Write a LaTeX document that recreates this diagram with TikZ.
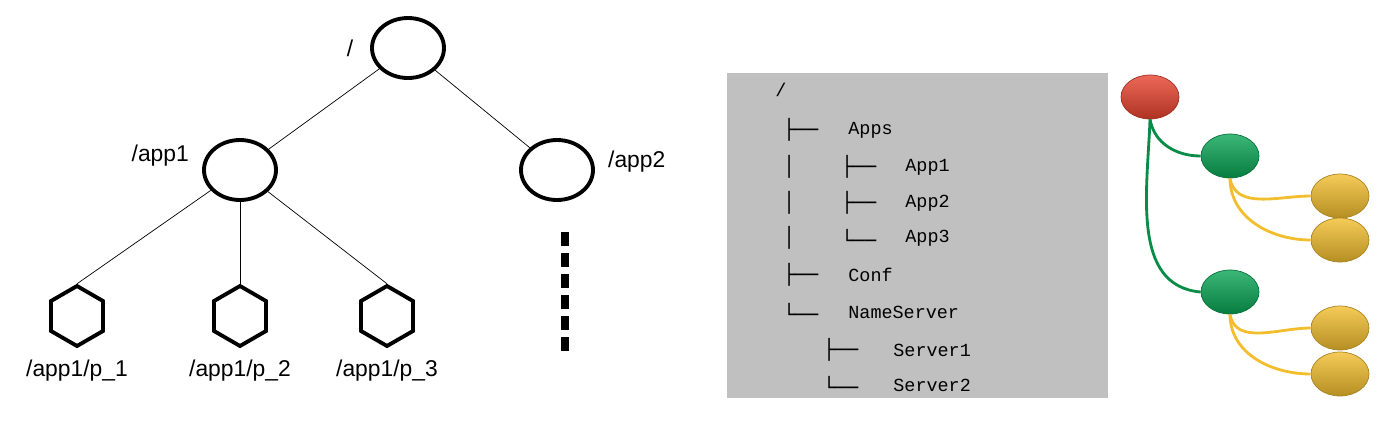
\documentclass[tikz,border=0pt]{standalone}
\usepackage{fontspec}
\setmainfont{Liberation Sans}
\newfontfamily\treemono{DejaVu Sans Mono}
\newfontfamily\codemono{Liberation Mono}
\usepackage{tikz}
\usetikzlibrary{shapes.geometric,positioning}
\definecolor{boxgray}{HTML}{C0C0C0}
\definecolor{znred}{HTML}{E8432F}
\definecolor{zngreen}{HTML}{0AA555}
\definecolor{znyellow}{HTML}{F2BE2E}
\tikzset{
  znode/.style={ellipse,draw,line width=2.2pt,minimum width=1.44cm,minimum height=1.2cm},
  zleaf/.style={regular polygon,regular polygon sides=6,shape border rotate=30,draw,line width=2.2pt,minimum size=1.2cm},
  zlabel/.style={font=\fontsize{13}{15}\selectfont},
  tline/.style={anchor=west,inner sep=0pt,font=\fontsize{9.5}{11}\selectfont},
  ball/.style={ellipse,minimum width=1.16cm,minimum height=0.88cm,draw=#1!70!black,line width=0.4pt,
    top color=#1!80!white,bottom color=#1!75!black}
}
\begin{document}
\begin{tikzpicture}[x=0.02cm,y=-0.02cm]
\useasboundingbox (0,0) rectangle (1396,420);
% zookeeper tree
\node[znode] (root) at (408,48) {};
\node[znode] (app1) at (240,170) {};
\node[znode] (app2) at (557,170) {};
\node[zleaf] (p1) at (77,316) {};
\node[zleaf] (p2) at (240,316) {};
\node[zleaf] (p3) at (387,316) {};
\node[zlabel,left=6pt of root] {/};
\node[zlabel,left=4pt of app1,yshift=8pt] {/app1};
\node[zlabel,right=4pt of app2,yshift=5pt] {/app2};
\foreach \p/\t in {p1/1,p2/2,p3/3}
  \node[zlabel,below=3pt of \p] {/app1/p\_\t};
\draw (root) -- (app1);
\draw (root) -- (app2);
\foreach \p in {p1,p2,p3} \draw (app1) -- (\p.corner 1);
\coordinate (dtop) at (565,232);
\coordinate (dbot) at (565,352);
\draw[line width=4pt,dash pattern=on 8pt off 4pt] (dtop) -- (dbot);
% directory listing
\fill[boxgray] (727,73) rectangle (1108,398);
\node[tline,font=\codemono\fontsize{10.5}{11}\selectfont] at (775,90) {/};
\foreach \y/\pre/\px/\txt/\tx in {130/├──/783/Apps/848, 167/├──/841/App1/905, 203/├──/841/App2/905,
    238/└──/841/App3/905, 275/├──/783/Conf/848, 312/└──/783/NameServer/848,
    350/├──/823/Server1/893, 385/└──/823/Server2/893}{
  \node[tline,font=\treemono\fontsize{11}{11}\selectfont] at (\px,\y) {\pre};
  \node[tline,font=\codemono\fontsize{10.5}{11}\selectfont] at (\tx,\y) {\txt};
}
\foreach \y in {167,203,238}
  \node[tline,font=\treemono\fontsize{11}{11}\selectfont] at (783,\y) {│};
% colored node tree
\node[ball=znred] (zr) at (1150,97) {};
\node[ball=zngreen] (ga) at (1230,156) {};
\node[ball=zngreen] (gb) at (1230,292) {};
\node[ball=znyellow] (ya) at (1340,196) {};
\node[ball=znyellow] (yb) at (1340,240) {};
\node[ball=znyellow] (yc) at (1340,328) {};
\node[ball=znyellow] (yd) at (1340,374) {};
\begin{scope}[zngreen!85!black,line width=1.6pt]
\draw (zr.south) to[out=-80,in=180] (ga.west);
\draw (zr.south) to[out=-92,in=175] (gb.west);
\end{scope}
\begin{scope}[znyellow,line width=1.6pt]
\draw (ga.south) to[out=-80,in=180] (ya.west);
\draw (ga.south) to[out=-90,in=180] (yb.west);
\draw (gb.south) to[out=-80,in=180] (yc.west);
\draw (gb.south) to[out=-90,in=180] (yd.west);
\end{scope}
\end{tikzpicture}
\end{document}
